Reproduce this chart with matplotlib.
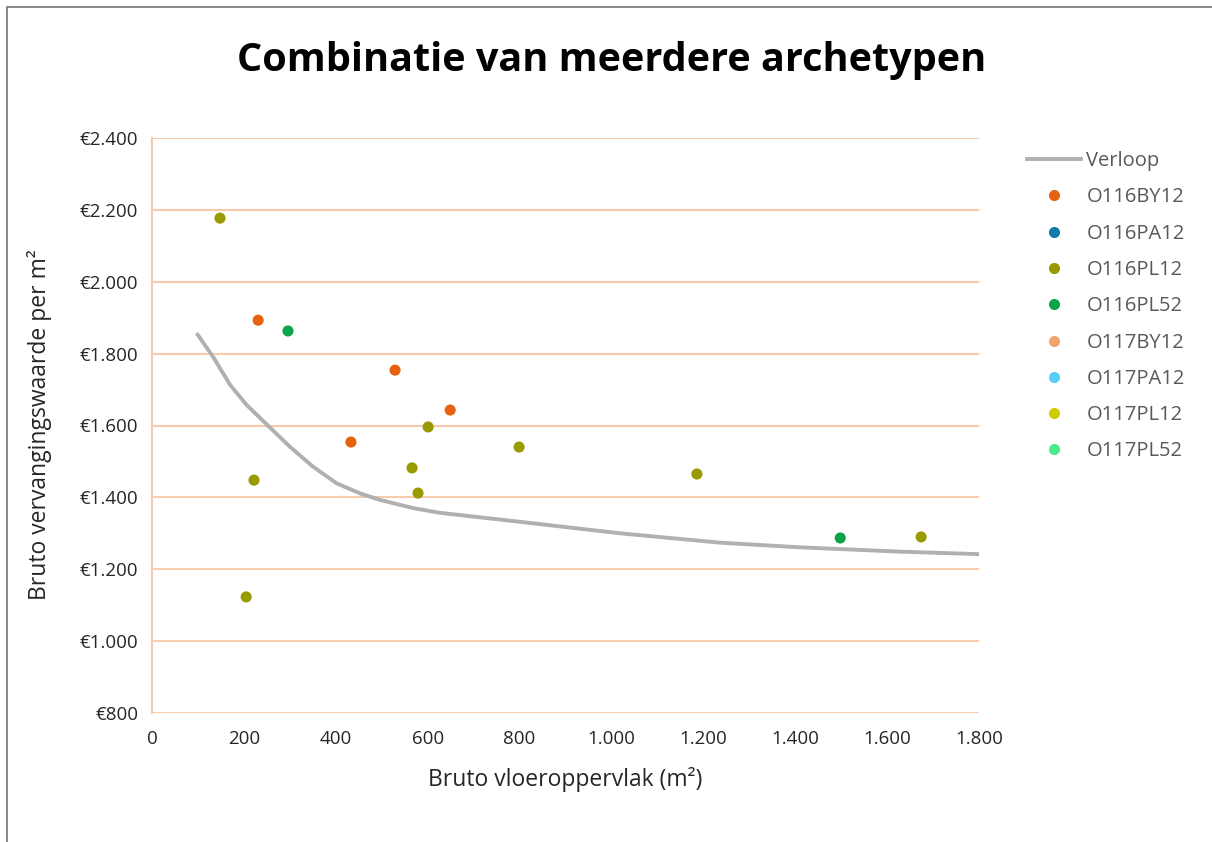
import matplotlib
matplotlib.use("Agg")
import matplotlib.pyplot as plt
from matplotlib.ticker import FuncFormatter, MultipleLocator
from matplotlib.patches import Rectangle
from matplotlib.lines import Line2D

plt.rcParams['font.family'] = ['Open Sans', 'DejaVu Sans']

# Trend line "Verloop"
verloop_x = [97, 133, 170, 206, 253, 300, 351, 402, 453, 496, 569, 627,
             801, 1019, 1236, 1410, 1628, 1800]
verloop_y = [1857, 1791, 1713, 1657, 1599, 1541, 1485, 1439, 1411, 1393, 1370, 1357,
             1332, 1300, 1274, 1261, 1249, 1242]

series_names = ["O116BY12", "O116PA12", "O116PL12", "O116PL52",
                "O117BY12", "O117PA12", "O117PL12", "O117PL52"]
series_colors = ["#E6620F", "#0E7BA8", "#999900", "#0BA548",
                 "#F4A26D", "#55CEF9", "#CCCC00", "#4AEB8A"]

O116BY12_x = [231, 529, 433, 649]
O116BY12_y = [1893, 1754, 1554, 1643]
O116PA12_x = []
O116PA12_y = []
O116PL12_x = [148, 222, 205, 601, 566, 579, 799, 1186, 1674]
O116PL12_y = [2177, 1448, 1123, 1596, 1482, 1412, 1540, 1465, 1290]
O116PL52_x = [296, 1498]
O116PL52_y = [1863, 1287]
O117BY12_x, O117BY12_y = [], []
O117PA12_x, O117PA12_y = [], []
O117PL12_x, O117PL12_y = [], []
O117PL52_x, O117PL52_y = [], []

series_x = [O116BY12_x, O116PA12_x, O116PL12_x, O116PL52_x,
            O117BY12_x, O117PA12_x, O117PL12_x, O117PL52_x]
series_y = [O116BY12_y, O116PA12_y, O116PL12_y, O116PL52_y,
            O117BY12_y, O117PA12_y, O117PL12_y, O117PL52_y]

W, H = 1212, 842
fig = plt.figure(figsize=(W / 100, H / 100), dpi=100)
fig.patches.append(Rectangle((7 / W, -0.1), 1.2, 1 - 7 / H + 0.1, transform=fig.transFigure,
                             fill=False, edgecolor="#767676", linewidth=1.2))

ax = fig.add_axes([152 / W, 1 - 713 / H, (979 - 152) / W, (713 - 138) / H])

grid_c = "#F8CBAD"
ax.set_xlim(0, 1800)
ax.set_ylim(800, 2400)
ax.yaxis.set_major_locator(MultipleLocator(200))
ax.xaxis.set_major_locator(MultipleLocator(200))
ax.grid(axis='y', color=grid_c, linewidth=1.5)
ax.set_axisbelow(True)
for s in ['top', 'right', 'bottom']:
    ax.spines[s].set_visible(False)
ax.spines['left'].set_color(grid_c)
ax.spines['left'].set_linewidth(1.5)
ax.tick_params(length=0, labelsize=13.5, colors="#262626")
ax.tick_params(axis='x', pad=12)
ax.tick_params(axis='y', pad=10)


def thousands(v, pos):
    return f"{int(round(v)):,}".replace(",", ".")


ax.yaxis.set_major_formatter(FuncFormatter(lambda v, p: "€" + thousands(v, p)))
ax.xaxis.set_major_formatter(FuncFormatter(thousands))

ax.plot(verloop_x, verloop_y, color="#B0B0B0", linewidth=2.8, solid_capstyle='butt',
        solid_joinstyle='round', zorder=2)
for xs, ys, c in zip(series_x, series_y, series_colors):
    if xs:
        ax.scatter(xs, ys, s=64, color=c, edgecolors='none', zorder=3)

fig.text(612 / W, 1 - 60 / H, "Combinatie van meerdere archetypen", ha='center', va='center',
         fontsize=28.5, fontweight='bold', color="#000000")
fig.text(565 / W, 1 - 779 / H, "Bruto vloeroppervlak (m²)", ha='center', va='center',
         fontsize=16.5, color="#262626")
fig.text(40 / W, 1 - 425 / H, "Bruto vervangingswaarde per m²", ha='center', va='center',
         rotation=90, fontsize=16.5, color="#262626")

handles = [Line2D([], [], color="#B0B0B0", linewidth=2.8)]
labels = ["Verloop"]
for n, c in zip(series_names, series_colors):
    handles.append(Line2D([], [], linestyle='none', marker='o', markersize=8,
                          markerfacecolor=c, markeredgecolor='none'))
    labels.append(n)
leg = fig.legend(handles, labels, loc='upper left', bbox_to_anchor=(1027 / W, 1 - 151 / H),
                 frameon=False, fontsize=14.5, labelcolor="#595959", handlelength=2.7,
                 handletextpad=0.25, labelspacing=0.81, borderaxespad=0, borderpad=0)

fig.savefig("out.png", dpi=100)
